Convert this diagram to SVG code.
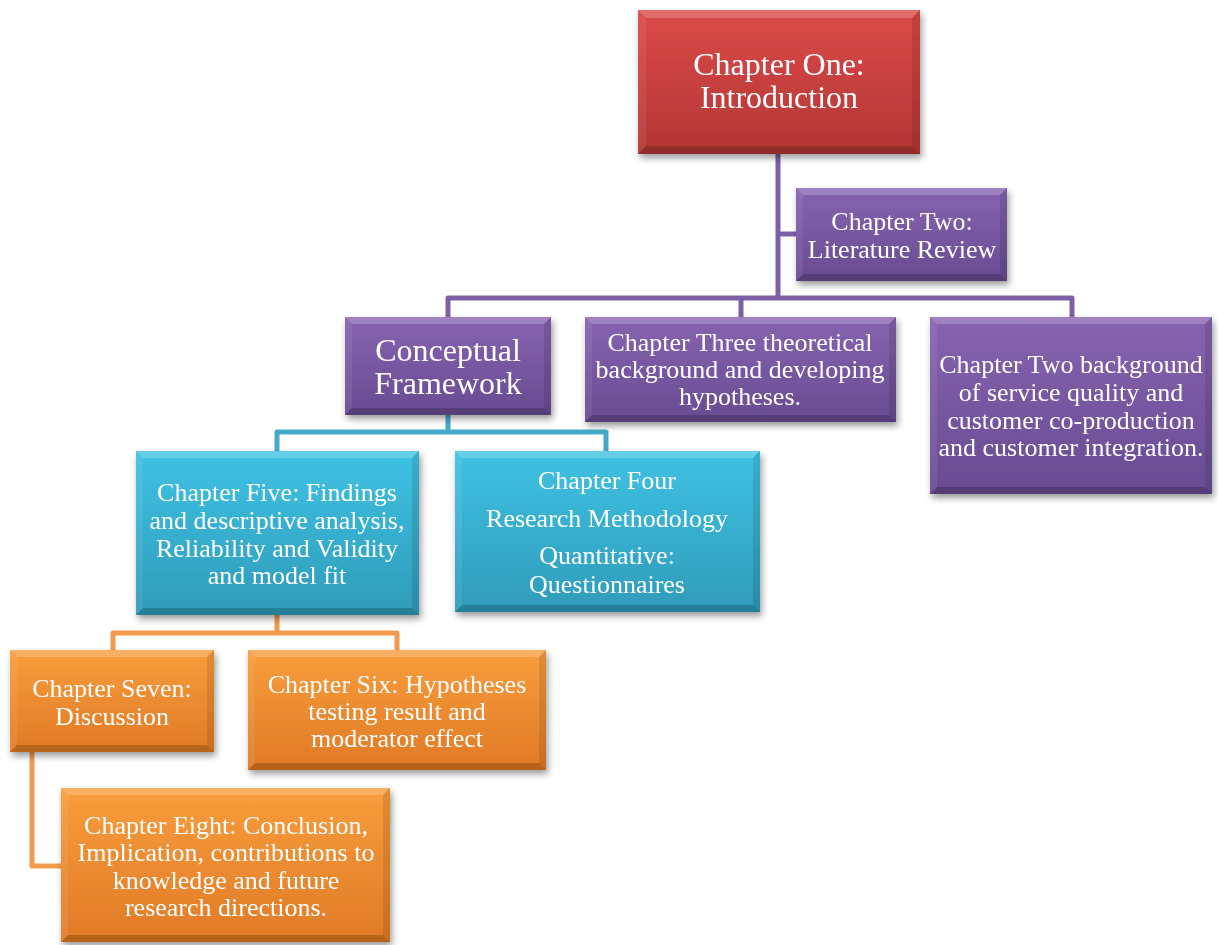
<svg xmlns="http://www.w3.org/2000/svg" width="1218" height="945" viewBox="0 0 1218 945">
  <style>
    .lbl { font-family: "Liberation Serif", "Times New Roman", serif; fill: #ffffff; text-anchor: middle; }
    .s26 { font-size: 26px; }
    .s32 { font-size: 32px; }
    .conn { fill: none; stroke-width: 5; stroke-linejoin: round; stroke-linecap: butt; }
    .c-purple { stroke: #7d5fa6; }
    .c-cyan { stroke: #45aac8; }
    .c-orange { stroke: #f39a4c; }
    .hi { fill: #ffffff; opacity: 0.2; }
    .hi2 { fill: #ffffff; opacity: 0.07; }
    .lo { fill: #000000; opacity: 0.18; }
    .lo2 { fill: #000000; opacity: 0.1; }
    .box { filter: url(#shadow); }
  </style>
  <defs>
    <linearGradient id="gRed" x1="0" y1="0" x2="0" y2="1">
      <stop offset="0" stop-color="#dc4a48"/>
      <stop offset="1" stop-color="#b23634"/>
    </linearGradient>
    <linearGradient id="gPurple" x1="0" y1="0" x2="0" y2="1">
      <stop offset="0" stop-color="#8763b0"/>
      <stop offset="1" stop-color="#684b92"/>
    </linearGradient>
    <linearGradient id="gCyan" x1="0" y1="0" x2="0" y2="1">
      <stop offset="0" stop-color="#3fc2e4"/>
      <stop offset="1" stop-color="#2f9bb9"/>
    </linearGradient>
    <linearGradient id="gOrange" x1="0" y1="0" x2="0" y2="1">
      <stop offset="0" stop-color="#f89d3c"/>
      <stop offset="1" stop-color="#e07a26"/>
    </linearGradient>
    <filter id="shadow" x="-10%" y="-10%" width="125%" height="130%">
      <feGaussianBlur in="SourceAlpha" stdDeviation="3.5"/>
      <feOffset dx="2" dy="4" result="b"/>
      <feComponentTransfer><feFuncA type="linear" slope="0.4"/></feComponentTransfer>
      <feMerge><feMergeNode/><feMergeNode in="SourceGraphic"/></feMerge>
    </filter>
  </defs>

  <!-- tree connectors -->
  <g id="connectors">
    <path class="conn c-purple" d="M778,154 V298 M778,234 H796 M448,317 V298 H1072 V317 M741,298 V317"/>
    <path class="conn c-cyan" d="M448,415 V432 M277,451 V432 H606 V451"/>
    <path class="conn c-orange" d="M277,615 V633 M113,650 V633 H397 V650 M32,752 V866 H61"/>
  </g>

  <!-- Chapter One -->
  <g id="ch1" class="box">
    <rect x="638" y="10" width="282" height="144" fill="url(#gRed)"/>
    <polygon class="hi" points="638,10 920,10 912,18 646,18"/>
    <polygon class="hi2" points="638,10 646,18 646,146 638,154"/>
    <polygon class="lo2" points="920,10 912,18 912,146 920,154"/>
    <polygon class="lo" points="638,154 920,154 912,146 646,146"/>
    <text class="lbl s32" x="779" y="75">Chapter One:</text>
    <text class="lbl s32" x="779" y="108">Introduction</text>
  </g>

  <!-- Chapter Two: Literature Review -->
  <g id="ch2-lit" class="box">
    <rect x="796" y="188" width="211" height="93" fill="url(#gPurple)"/>
    <polygon class="hi" points="796,188 1007,188 1000,195 803,195"/>
    <polygon class="hi2" points="796,188 803,195 803,274 796,281"/>
    <polygon class="lo2" points="1007,188 1000,195 1000,274 1007,281"/>
    <polygon class="lo" points="796,281 1007,281 1000,274 803,274"/>
    <text class="lbl s26" x="902" y="230">Chapter Two:</text>
    <text class="lbl s26" x="902" y="258">Literature Review</text>
  </g>

  <!-- Conceptual Framework -->
  <g id="conceptual" class="box">
    <rect x="345" y="317" width="206" height="98" fill="url(#gPurple)"/>
    <polygon class="hi" points="345,317 551,317 544,324 352,324"/>
    <polygon class="hi2" points="345,317 352,324 352,408 345,415"/>
    <polygon class="lo2" points="551,317 544,324 544,408 551,415"/>
    <polygon class="lo" points="345,415 551,415 544,408 352,408"/>
    <text class="lbl s32" x="448" y="361">Conceptual</text>
    <text class="lbl s32" x="448" y="394">Framework</text>
  </g>

  <!-- Chapter Three -->
  <g id="ch3" class="box">
    <rect x="585" y="317" width="311" height="105" fill="url(#gPurple)"/>
    <polygon class="hi" points="585,317 896,317 889,324 592,324"/>
    <polygon class="hi2" points="585,317 592,324 592,415 585,422"/>
    <polygon class="lo2" points="896,317 889,324 889,415 896,422"/>
    <polygon class="lo" points="585,422 896,422 889,415 592,415"/>
    <text class="lbl s26" x="740" y="351">Chapter Three theoretical</text>
    <text class="lbl s26" x="740" y="378">background and developing</text>
    <text class="lbl s26" x="740" y="405">hypotheses.</text>
  </g>

  <!-- Chapter Two background -->
  <g id="ch2-bg" class="box">
    <rect x="930" y="317" width="282" height="177" fill="url(#gPurple)"/>
    <polygon class="hi" points="930,317 1212,317 1205,324 937,324"/>
    <polygon class="hi2" points="930,317 937,324 937,487 930,494"/>
    <polygon class="lo2" points="1212,317 1205,324 1205,487 1212,494"/>
    <polygon class="lo" points="930,494 1212,494 1205,487 937,487"/>
    <text class="lbl s26" x="1071" y="373">Chapter Two background</text>
    <text class="lbl s26" x="1071" y="401">of service quality and</text>
    <text class="lbl s26" x="1071" y="429">customer co-production</text>
    <text class="lbl s26" x="1071" y="456">and customer integration.</text>
  </g>

  <!-- Chapter Five -->
  <g id="ch5" class="box">
    <rect x="136" y="451" width="283" height="164" fill="url(#gCyan)"/>
    <polygon class="hi" points="136,451 419,451 412,458 143,458"/>
    <polygon class="hi2" points="136,451 143,458 143,608 136,615"/>
    <polygon class="lo2" points="419,451 412,458 412,608 419,615"/>
    <polygon class="lo" points="136,615 419,615 412,608 143,608"/>
    <text class="lbl s26" x="277" y="501">Chapter Five: Findings</text>
    <text class="lbl s26" x="277" y="529">and descriptive analysis,</text>
    <text class="lbl s26" x="277" y="557">Reliability and Validity</text>
    <text class="lbl s26" x="277" y="584">and model fit</text>
  </g>

  <!-- Chapter Four -->
  <g id="ch4" class="box">
    <rect x="455" y="451" width="305" height="161" fill="url(#gCyan)"/>
    <polygon class="hi" points="455,451 760,451 753,458 462,458"/>
    <polygon class="hi2" points="455,451 462,458 462,605 455,612"/>
    <polygon class="lo2" points="760,451 753,458 753,605 760,612"/>
    <polygon class="lo" points="455,612 760,612 753,605 462,605"/>
    <text class="lbl s26" x="607" y="489">Chapter Four</text>
    <text class="lbl s26" x="607" y="527">Research Methodology</text>
    <text class="lbl s26" x="607" y="564">Quantitative:</text>
    <text class="lbl s26" x="607" y="593">Questionnaires</text>
  </g>

  <!-- Chapter Seven -->
  <g id="ch7" class="box">
    <rect x="10" y="650" width="204" height="102" fill="url(#gOrange)"/>
    <polygon class="hi" points="10,650 214,650 207,657 17,657"/>
    <polygon class="hi2" points="10,650 17,657 17,745 10,752"/>
    <polygon class="lo2" points="214,650 207,657 207,745 214,752"/>
    <polygon class="lo" points="10,752 214,752 207,745 17,745"/>
    <text class="lbl s26" x="112" y="697">Chapter Seven:</text>
    <text class="lbl s26" x="112" y="725">Discussion</text>
  </g>

  <!-- Chapter Six -->
  <g id="ch6" class="box">
    <rect x="248" y="650" width="298" height="120" fill="url(#gOrange)"/>
    <polygon class="hi" points="248,650 546,650 539,657 255,657"/>
    <polygon class="hi2" points="248,650 255,657 255,763 248,770"/>
    <polygon class="lo2" points="546,650 539,657 539,763 546,770"/>
    <polygon class="lo" points="248,770 546,770 539,763 255,763"/>
    <text class="lbl s26" x="397" y="693">Chapter Six: Hypotheses</text>
    <text class="lbl s26" x="397" y="720">testing result and</text>
    <text class="lbl s26" x="397" y="747">moderator effect</text>
  </g>

  <!-- Chapter Eight -->
  <g id="ch8" class="box">
    <rect x="61" y="788" width="329" height="154" fill="url(#gOrange)"/>
    <polygon class="hi" points="61,788 390,788 383,795 68,795"/>
    <polygon class="hi2" points="61,788 68,795 68,935 61,942"/>
    <polygon class="lo2" points="390,788 383,795 383,935 390,942"/>
    <polygon class="lo" points="61,942 390,942 383,935 68,935"/>
    <text class="lbl s26" x="226" y="834">Chapter Eight: Conclusion,</text>
    <text class="lbl s26" x="226" y="861">Implication, contributions to</text>
    <text class="lbl s26" x="226" y="889">knowledge and future</text>
    <text class="lbl s26" x="226" y="916">research directions.</text>
  </g>
</svg>
